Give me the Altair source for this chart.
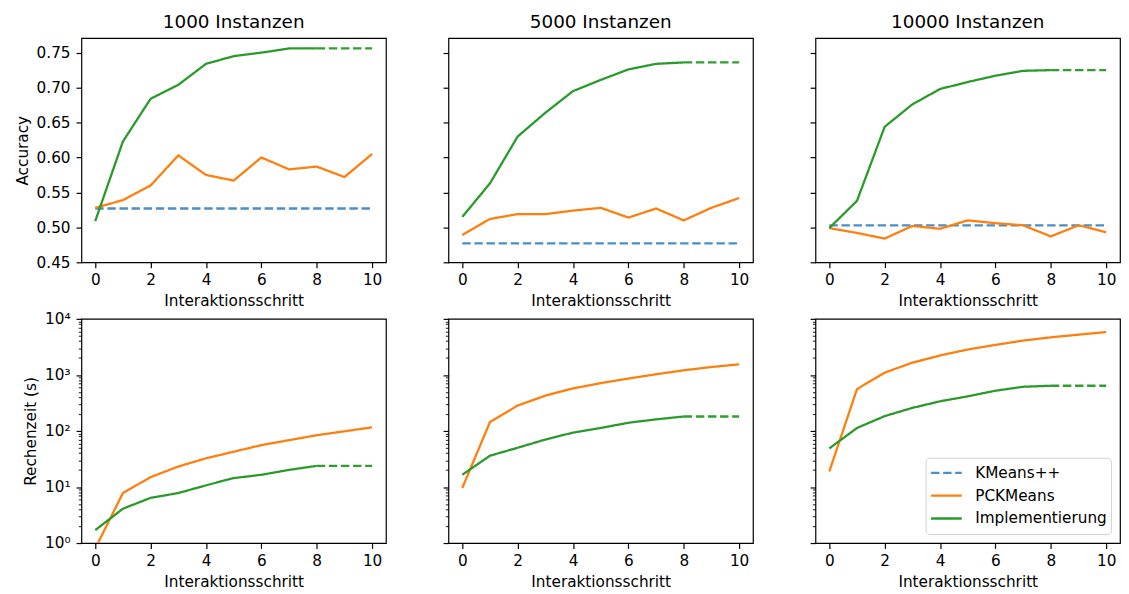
import altair as alt
import pandas as pd

# ---------------- data ----------------
steps = list(range(11))
steps_impl = list(range(9))
titles = ["1000 Instanzen", "5000 Instanzen", "10000 Instanzen"]
series_names = ["KMeans++", "PCKMeans", "Implementierung"]
series_colors = ["#4a8fc8", "#ff7f0e", "#2a9a2a"]

acc_kmeans = [0.527, 0.477, 0.503]
acc_pck_1000 = [0.528, 0.539, 0.560, 0.603, 0.575, 0.567, 0.600, 0.583, 0.587, 0.572, 0.605]
acc_pck_5000 = [0.489, 0.512, 0.519, 0.519, 0.524, 0.528, 0.514, 0.527, 0.510, 0.528, 0.542]
acc_pck_10000 = [0.499, 0.492, 0.484, 0.502, 0.498, 0.510, 0.506, 0.503, 0.487, 0.503, 0.493]
acc_impl_1000 = [0.509, 0.623, 0.684, 0.704, 0.734, 0.745, 0.750, 0.756, 0.756]
acc_impl_5000 = [0.515, 0.563, 0.630, 0.664, 0.695, 0.711, 0.726, 0.734, 0.736]
acc_impl_10000 = [0.499, 0.538, 0.644, 0.676, 0.698, 0.708, 0.717, 0.724, 0.725]

time_pck_1000 = [0.8, 7.8, 15.0, 23.2, 32.5, 42.6, 55.9, 68.5, 83.9, 98.6, 116]
time_pck_5000 = [9.6, 144, 284, 426, 574, 713, 861, 1027, 1208, 1384, 1542]
time_pck_10000 = [18.9, 558, 1099, 1651, 2224, 2838, 3428, 4090, 4685, 5222, 5818]
time_impl_1000 = [1.7, 4.1, 6.4, 7.8, 10.7, 14.4, 16.5, 20.2, 23.8]
time_impl_5000 = [16.5, 36.2, 50.1, 70.3, 93.4, 113, 140, 161, 181]
time_impl_10000 = [48.8, 113, 184, 258, 338, 415, 522, 614, 640]

acc_pck = [acc_pck_1000, acc_pck_5000, acc_pck_10000]
acc_impl = [acc_impl_1000, acc_impl_5000, acc_impl_10000]
time_pck = [time_pck_1000, time_pck_5000, time_pck_10000]
time_impl = [time_impl_1000, time_impl_5000, time_impl_10000]

acc_ticks = [0.45, 0.50, 0.55, 0.60, 0.65, 0.70, 0.75]
log_major = [1, 10, 100, 1000, 10000]
log_minor = [m * 10 ** k for k in range(4) for m in range(2, 10)]
x_ticks = [0, 2, 4, 6, 8, 10]

# ---------------- style ----------------
FONT = "DejaVu Sans"
FS = 15.4
LW = 2.3
DASH = [8.5, 3.7]
W, H = 307, 226

x_enc = alt.X("step:Q",
              scale=alt.Scale(domain=[-0.5, 10.5], nice=False, zero=False),
              axis=alt.Axis(values=x_ticks, title="Interaktionsschritt", labelFlush=False))


def legend_for(show):
    if not show:
        return None
    return alt.Legend(title=None, orient="bottom-right", offset=9,
                      strokeColor="#d0d0d0", fillColor="white", cornerRadius=4,
                      padding=4, labelFontSize=FS, labelFont=FONT, labelColor="black",
                      symbolType="stroke", symbolSize=961, symbolStrokeWidth=LW,
                      clipHeight=22.5, rowPadding=0, labelOffset=12)


def panel(i, metric):
    rows = []
    if metric == "acc":
        for s in steps:
            rows.append({"step": s, "v": acc_kmeans[i], "series": "KMeans++"})
        for s, v in zip(steps, acc_pck[i]):
            rows.append({"step": s, "v": v, "series": "PCKMeans"})
        for s, v in zip(steps_impl, acc_impl[i]):
            rows.append({"step": s, "v": v, "series": "Implementierung"})
        last = acc_impl[i][-1]
    else:
        for s, v in zip(steps, time_pck[i]):
            rows.append({"step": s, "v": v, "series": "PCKMeans"})
        for s, v in zip(steps_impl, time_impl[i]):
            rows.append({"step": s, "v": v, "series": "Implementierung"})
        last = time_impl[i][-1]
    df = pd.DataFrame(rows)
    ext = pd.DataFrame({"step": [8, 10], "v": [last, last]})

    first = i == 0
    show_leg = (metric == "time" and i == 2)

    if metric == "acc":
        yscale = alt.Scale(domain=[0.45, 0.7708], nice=False, zero=False)
        yaxis = alt.Axis(values=acc_ticks, format=".2f", labels=first,
                         title="Accuracy" if first else None, labelFlush=False, orient="left")
        yaxis2 = yaxis
    else:
        yscale = alt.Scale(type="log", domain=[1, 10000], nice=False)
        yaxis = alt.Axis(values=log_major, labels=first, labelFlush=False, orient="left",
                         title="Rechenzeit (s)" if first else None,
                         labelExpr="datum.value == 1 ? '10\u2070' : datum.value == 10 ? '10\u00b9' : "
                                   "datum.value == 100 ? '10\u00b2' : datum.value == 1000 ? '10\u00b3' : '10\u2074'")
        yaxis2 = alt.Axis(values=log_minor, labels=False, title=None, tickSize=3.1,
                          tickWidth=0.9, orient="left", labelFlush=False)

    main = alt.Chart(df).mark_line(strokeWidth=LW, clip=True).encode(
        x=x_enc,
        y=alt.Y("v:Q", scale=yscale, axis=yaxis),
        color=alt.Color("series:N", scale=alt.Scale(domain=series_names, range=series_colors),
                        legend=legend_for(show_leg)),
        strokeDash=alt.StrokeDash("series:N",
                                  scale=alt.Scale(domain=series_names, range=[DASH, [1, 0], [1, 0]]),
                                  legend=legend_for(show_leg)),
    )
    ext_layer = alt.Chart(ext).mark_line(strokeWidth=LW, clip=True, strokeDash=DASH,
                                         color="#2ca02c").encode(
        x=x_enc,
        y=alt.Y("v:Q", scale=yscale, axis=yaxis2),
    )
    layer = alt.layer(main, ext_layer)
    if metric == "time":
        layer = layer.resolve_axis(y="independent")
    props = dict(width=W, height=H)
    if metric == "acc":
        props["title"] = alt.TitleParams(titles[i], fontSize=18.5, font=FONT, fontWeight="normal",
                                         color="black", offset=7)
    return layer.properties(**props)


charts = [panel(i, "acc") for i in range(3)] + [panel(i, "time") for i in range(3)]

chart = alt.concat(*charts, columns=3, spacing={"row": 57, "column": 63}, bounds="flush").resolve_scale(
    x="independent", y="independent", color="independent", strokeDash="independent"
).resolve_legend(color="independent", strokeDash="independent").properties(
    padding={"left": 6, "top": 1, "right": 0, "bottom": 0}
).configure(font=FONT).configure_view(
    stroke="black", strokeWidth=1.2
).configure_axis(
    domain=False, grid=False, labelFont=FONT, titleFont=FONT, labelFontSize=FS, titleFontSize=FS,
    labelColor="black", titleColor="black", tickColor="black", tickWidth=1.2, tickSize=5.4,
    labelPadding=4.9, titleFontWeight="normal", titlePadding=6
).configure_axisY(labelPadding=6)

chart.save("out.html", embed_options={"renderer": "svg", "actions": False})
